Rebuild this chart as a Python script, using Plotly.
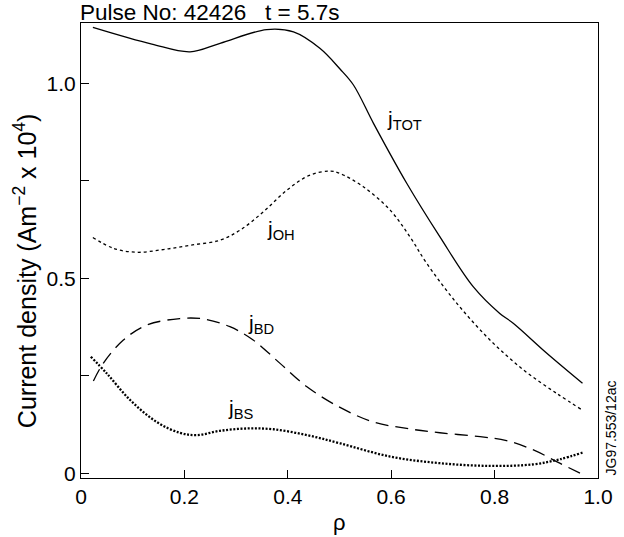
import plotly.graph_objects as go

# ---- data (rho, current density in units of 1e4 A m^-2) ----
rho_tot = [0.023, 0.137, 0.211, 0.269, 0.359, 0.411, 0.462, 0.501, 0.527, 0.566,
           0.630, 0.694, 0.759, 0.810, 0.836, 0.901, 0.970]
j_tot = [1.144, 1.101, 1.081, 1.103, 1.138, 1.132, 1.090, 1.037, 0.996, 0.897,
         0.744, 0.607, 0.478, 0.410, 0.385, 0.308, 0.231]

rho_oh = [0.023, 0.063, 0.108, 0.159, 0.211, 0.269, 0.308, 0.353, 0.398, 0.443,
          0.482, 0.501, 0.546, 0.598, 0.636, 0.669, 0.727, 0.791, 0.856, 0.920, 0.970]
j_oh = [0.605, 0.577, 0.567, 0.574, 0.585, 0.598, 0.624, 0.671, 0.726, 0.765,
        0.775, 0.769, 0.735, 0.675, 0.607, 0.538, 0.436, 0.342, 0.265, 0.205, 0.162]

rho_bd = [0.024, 0.043, 0.082, 0.127, 0.191, 0.237, 0.288, 0.333, 0.385, 0.437,
          0.501, 0.565, 0.630, 0.694, 0.772, 0.823, 0.875, 0.926, 0.972]
j_bd = [0.237, 0.282, 0.342, 0.380, 0.397, 0.396, 0.376, 0.342, 0.282, 0.222,
        0.169, 0.132, 0.115, 0.104, 0.094, 0.084, 0.060, 0.026, -0.004]

rho_bs = [0.019, 0.050, 0.095, 0.146, 0.191, 0.224, 0.269, 0.320, 0.372, 0.437,
          0.501, 0.598, 0.694, 0.791, 0.875, 0.926, 0.970]
j_bs = [0.299, 0.256, 0.188, 0.132, 0.104, 0.098, 0.109, 0.115, 0.113, 0.098,
        0.077, 0.043, 0.026, 0.019, 0.023, 0.036, 0.053]

x_ticks = [0, 0.2, 0.4, 0.6, 0.8, 1.0]
x_ticktext = ["0", "0.2", "0.4", "0.6", "0.8", "1.0"]
y_ticks = [0, 0.25, 0.5, 0.75, 1.0]
y_ticktext = ["0", "", "0.5", "", "1.0"]

FONT = "Liberation Sans, Arial, sans-serif"

fig = go.Figure()
fig.add_trace(go.Scatter(x=rho_tot, y=j_tot, mode="lines", line_shape="spline",
                         line=dict(color="black", width=1.3)))
fig.add_trace(go.Scatter(x=rho_oh, y=j_oh, mode="lines", line_shape="spline",
                         line=dict(color="black", width=1.3, dash="3px,3px")))
fig.add_trace(go.Scatter(x=rho_bd, y=j_bd, mode="lines", line_shape="spline",
                         line=dict(color="black", width=1.3, dash="13px,7px")))
fig.add_trace(go.Scatter(x=rho_bs, y=j_bs, mode="lines", line_shape="spline",
                         line=dict(color="black", width=2.3, dash="2px,1.6px")))

labels = [("j<sub>TOT</sub>", 0.625, 0.906),
          ("j<sub>OH</sub>", 0.387, 0.624),
          ("j<sub>BD</sub>", 0.348, 0.383),
          ("j<sub>BS</sub>", 0.309, 0.165)]
for txt, lx, ly in labels:
    fig.add_annotation(x=lx, y=ly, xref="x", yref="y", text=txt, showarrow=False,
                       font=dict(family=FONT, size=21, color="black"))

nb = "\u00a0"
fig.add_annotation(x=0, y=1.0235, xref="paper", yref="paper", xanchor="left", yanchor="middle",
                   text=f"Pulse No: 42426{nb*3}t = 5.7s", showarrow=False, xshift=-3,
                   font=dict(family=FONT, size=22.5, color="black"))
fig.add_annotation(x=-0.108, y=0.455, xref="paper", yref="paper", textangle=-90,
                   xanchor="center", yanchor="middle",
                   text="Current density (Am<sup>\u22122</sup> x 10<sup>4</sup>)",
                   showarrow=False, font=dict(family=FONT, size=25, color="black"))
fig.add_annotation(x=0.5, y=-0.0985, xref="paper", yref="paper",
                   text="\u03c1", showarrow=False, yanchor="middle",
                   font=dict(family=FONT, size=22, color="black"))
fig.add_annotation(x=1.0, y=0.0, xref="paper", yref="paper", textangle=-90,
                   xanchor="left", yanchor="bottom", xshift=2,
                   text="JG97.553/12ac", showarrow=False,
                   font=dict(family=FONT, size=14, color="black"))

axis_common = dict(showline=True, linecolor="black", linewidth=1.2, mirror=True,
                   ticks="inside", ticklen=8, tickwidth=1, tickcolor="black",
                   showgrid=False, zeroline=False,
                   tickfont=dict(family=FONT, size=21, color="black"))
fig.update_xaxes(range=[0, 1.0], tickvals=x_ticks, ticktext=x_ticktext, **axis_common)
fig.update_yaxes(range=[-0.012, 1.155], tickvals=y_ticks, ticktext=y_ticktext, **axis_common)

fig.update_layout(width=624, height=537, showlegend=False,
                  margin=dict(l=81, r=26, t=23, b=59),
                  plot_bgcolor="white", paper_bgcolor="white",
                  font=dict(family=FONT, color="black"))

fig.write_html("out.html")
